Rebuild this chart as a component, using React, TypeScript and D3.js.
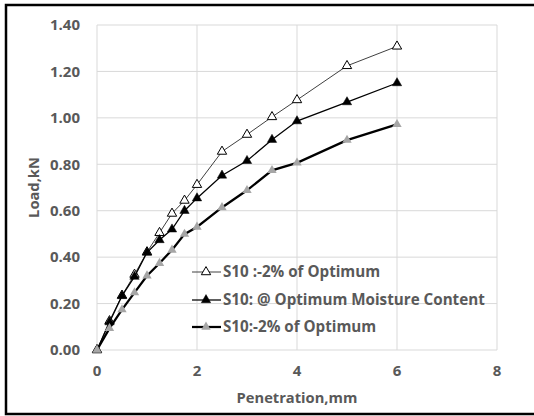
import * as d3 from 'd3';

// penetration (mm) and load (kN)
const penetration = [0, 0.25, 0.5, 0.75, 1, 1.25, 1.5, 1.75, 2, 2.5, 3, 3.5, 4, 5, 6];
const loadDry = [0, 0.125, 0.235, 0.325, 0.422, 0.505, 0.588, 0.644, 0.712, 0.855, 0.928, 1.004, 1.077, 1.224, 1.308];
const loadOmc = [0, 0.12, 0.233, 0.316, 0.42, 0.474, 0.52, 0.6, 0.654, 0.752, 0.815, 0.906, 0.986, 1.068, 1.15];
const loadWet = [0, 0.093, 0.174, 0.247, 0.32, 0.374, 0.431, 0.499, 0.53, 0.614, 0.688, 0.774, 0.806, 0.904, 0.972];

const seriesNames = ['S10 :-2% of Optimum', 'S10: @ Optimum Moisture Content', 'S10:-2% of Optimum'];
const xTicks = [0, 2, 4, 6, 8];
const yTicks = [0, 0.2, 0.4, 0.6, 0.8, 1.0, 1.2, 1.4];

const W = 534;
const H = 416;
const margin = { left: 97, right: 37, top: 25, bottom: 66 };
const textColor = '#595959';
const font = "'Open Sans', sans-serif";

const styles = [
  { line: '#404040', lineWidth: 1, fill: '#fff', stroke: '#000', strokeWidth: 1 },
  { line: '#000', lineWidth: 1.25, fill: '#000', stroke: '#000', strokeWidth: 0.5 },
  { line: '#000', lineWidth: 2.25, fill: '#a6a6a6', stroke: 'none', strokeWidth: 0 },
];

export default function App() {
  const x = d3.scaleLinear().domain([0, 8]).range([margin.left, W - margin.right]);
  const y = d3.scaleLinear().domain([0, 1.4]).range([H - margin.bottom, margin.top]);

  const all = [loadDry, loadOmc, loadWet];
  const line = d3.line<number>()
    .x((_, i) => x(penetration[i]))
    .y(d => y(d));
  const tri = d3.symbol().type(d3.symbolTriangle).size(38);

  const legendX = 192;
  const legendY = [272, 300, 327];

  return (
    <svg width={W} height={H} style={{ position: 'absolute', left: 0, top: 0 }}>
      <rect x={0} y={0} width={W} height={H} fill="#fff" />
      {/* frame runs off the right edge */}
      <rect x={6} y={5} width={540} height={409} fill="none" stroke="#000" strokeWidth={2.5} />

      {/* grid */}
      {yTicks.map(t => (
        <line key={'gy' + t} x1={x(0)} x2={x(8)} y1={y(t)} y2={y(t)} stroke="#d9d9d9" strokeWidth={1} />
      ))}
      {xTicks.map(t => (
        <line key={'gx' + t} x1={x(t)} x2={x(t)} y1={y(0)} y2={y(1.4)} stroke="#d9d9d9" strokeWidth={1} />
      ))}

      {/* tick labels */}
      {yTicks.map(t => (
        <text key={'ly' + t} x={80} y={y(t)} dy="0.35em" textAnchor="end" fontFamily={font}
          fontWeight="bold" fontSize={15} fill={textColor}>{d3.format('.2f')(t)}</text>
      ))}
      {xTicks.map(t => (
        <text key={'lx' + t} x={x(t)} y={371} dy="0.35em" textAnchor="middle" fontFamily={font}
          fontWeight="bold" fontSize={15} fill={textColor}>{t}</text>
      ))}

      <text x={(x(0) + x(8)) / 2} y={398} dy="0.35em" textAnchor="middle" fontFamily={font}
        fontWeight="bold" fontSize={14.7} fill={textColor}>Penetration,mm</text>
      <text transform={`translate(34,${(y(0) + y(1.4)) / 2}) rotate(-90)`} dy="0.35em" textAnchor="middle"
        fontFamily={font} fontWeight="bold" fontSize={14.7} fill={textColor}>Load,kN</text>

      {/* series */}
      {all.map((vals, k) => (
        <g key={'s' + k}>
          <path d={line(vals) || ''} fill="none" stroke={styles[k].line} strokeWidth={styles[k].lineWidth} />
          {vals.map((v, i) => (
            <path key={i} d={tri() || ''} transform={`translate(${x(penetration[i])},${y(v)})`}
              fill={styles[k].fill} stroke={styles[k].stroke} strokeWidth={styles[k].strokeWidth} />
          ))}
        </g>
      ))}

      {/* legend */}
      {seriesNames.map((name, k) => (
        <g key={'lg' + k} transform={`translate(${legendX},${legendY[k]})`}>
          <line x1={0} x2={29} y1={0} y2={0} stroke={styles[k].line} strokeWidth={styles[k].lineWidth} />
          <path d={tri() || ''} transform="translate(14,0)" fill={styles[k].fill}
            stroke={styles[k].stroke} strokeWidth={styles[k].strokeWidth} />
          <text x={31} y={0} dy="0.35em" fontFamily={font} fontWeight="bold" fontSize={15.2}
            fill={textColor}>{name}</text>
        </g>
      ))}
    </svg>
  );
}
